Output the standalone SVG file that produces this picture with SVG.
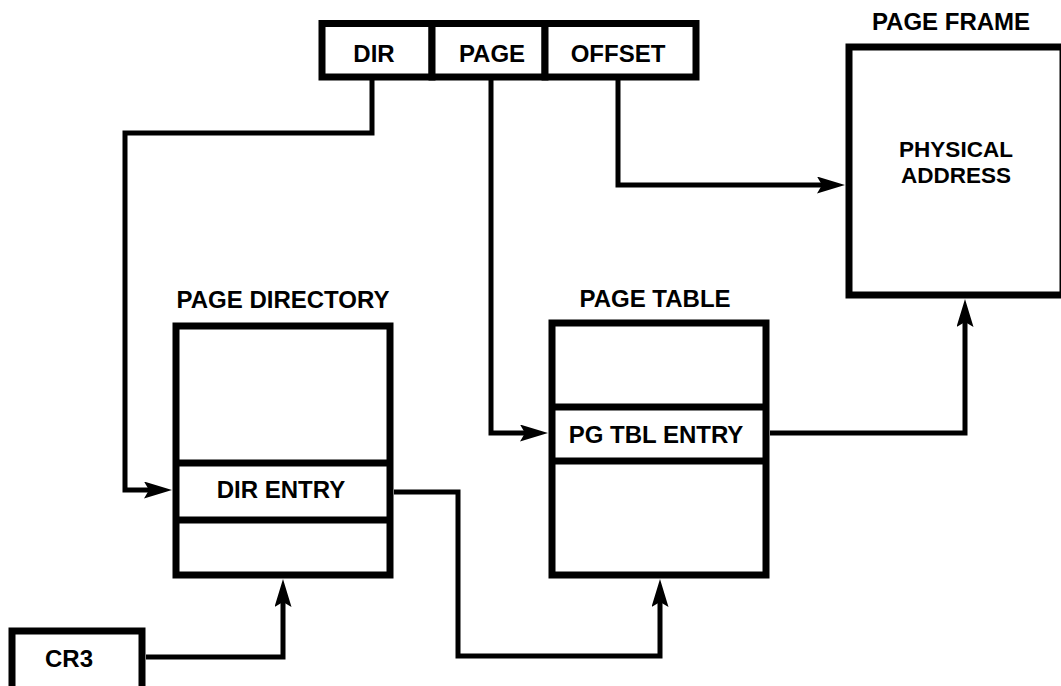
<svg xmlns="http://www.w3.org/2000/svg" width="1061" height="686" viewBox="0 0 1061 686">
<style>
.box{fill:#fff;stroke:#000;stroke-width:7}
.div{stroke:#000;stroke-width:7}
.conn{fill:none;stroke:#000;stroke-width:5}
.t{font-family:"Liberation Sans",Arial,Helvetica,sans-serif;font-weight:bold;font-size:24px;fill:#000;text-anchor:middle}
.t2{font-size:22.5px}
</style>
<defs>
<marker id="arr" viewBox="0 0 28 17" refX="8" refY="8.5" markerWidth="28" markerHeight="17" markerUnits="userSpaceOnUse" orient="auto">
<path d="M0,0 L28,8.5 L0,17 L5,8.5 Z" fill="#000"/>
</marker>
</defs>
<rect width="1061" height="686" fill="#fff"/>
<g id="connectors">
<path class="conn" d="M372,80 V133 H125 V490 H152" marker-end="url(#arr)"/>
<path class="conn" d="M491,80 V433 H528" marker-end="url(#arr)"/>
<path class="conn" d="M618,80 V185 H825" marker-end="url(#arr)"/>
<path class="conn" d="M770,433 H965 V319" marker-end="url(#arr)"/>
<path class="conn" d="M394,492 H458 V656 H660 V599" marker-end="url(#arr)"/>
<path class="conn" d="M146,657 H283 V599" marker-end="url(#arr)"/>
</g>
<g id="linear-address">
<rect class="box" x="322" y="23.5" width="110" height="53.5"/>
<rect class="box" x="432" y="23.5" width="113" height="53.5"/>
<rect class="box" x="545" y="23.5" width="151" height="53.5"/>
<text class="t" x="374" y="62">DIR</text>
<text class="t" x="492" y="62">PAGE</text>
<text class="t" x="618" y="62">OFFSET</text>
</g>
<g id="page-frame">
<text class="t" x="951" y="30">PAGE FRAME</text>
<rect class="box" x="849" y="47" width="214" height="248"/>
<text class="t t2" x="956" y="157">PHYSICAL</text>
<text class="t t2" x="956" y="183">ADDRESS</text>
</g>
<g id="page-directory">
<text class="t" x="283" y="308">PAGE DIRECTORY</text>
<rect class="box" x="176" y="326" width="214" height="249"/>
<line class="div" x1="176" y1="463" x2="390" y2="463"/>
<line class="div" x1="176" y1="520" x2="390" y2="520"/>
<text class="t" x="281" y="498">DIR ENTRY</text>
</g>
<g id="page-table">
<text class="t" x="655" y="307">PAGE TABLE</text>
<rect class="box" x="552" y="323" width="214" height="252"/>
<line class="div" x1="552" y1="407" x2="766" y2="407"/>
<line class="div" x1="552" y1="461" x2="766" y2="461"/>
<text class="t" x="656" y="443">PG TBL ENTRY</text>
</g>
<g id="cr3">
<rect class="box" x="12" y="631" width="130" height="62"/>
<text class="t" x="69" y="667">CR3</text>
</g>
</svg>
